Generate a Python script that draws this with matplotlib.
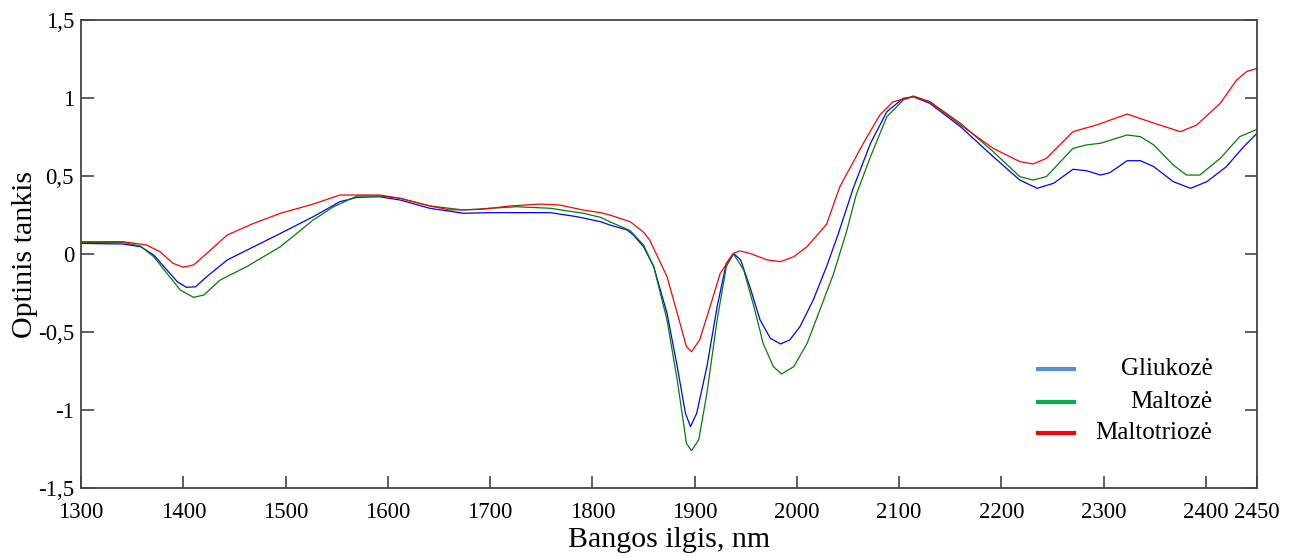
import matplotlib
matplotlib.use("Agg")
import matplotlib.pyplot as plt
from matplotlib.lines import Line2D

plt.rcParams["font.family"] = ["Liberation Serif", "DejaVu Serif"]

# Gliukozė
wl_gliukoze = [1300, 1341, 1358, 1371, 1384, 1394, 1403, 1412, 1423, 1443, 1469, 1495,
               1527, 1553, 1570, 1592, 1612, 1641, 1674, 1700, 1759, 1785, 1808, 1817,
               1834, 1840, 1850, 1860, 1873, 1883, 1891, 1896, 1902, 1912, 1922, 1931,
               1938, 1945, 1954, 1964, 1974, 1984, 1993, 2003, 2016, 2029, 2040, 2055,
               2072, 2088, 2104, 2114, 2130, 2160, 2192, 2218, 2235, 2251, 2270, 2283,
               2297, 2306, 2323, 2336, 2349, 2368, 2385, 2401, 2420, 2437, 2450]
od_gliukoze = [0.068, 0.064, 0.047, -0.006, -0.103, -0.177, -0.214, -0.21, -0.145, -0.038,
               0.047, 0.132, 0.239, 0.335, 0.363, 0.367, 0.346, 0.293, 0.261, 0.265, 0.265,
               0.239, 0.207, 0.186, 0.154, 0.122, 0.047, -0.081, -0.38, -0.722, -1.021,
               -1.107, -1.021, -0.722, -0.338, -0.06, 0.004, -0.038, -0.21, -0.423, -0.54,
               -0.577, -0.551, -0.466, -0.295, -0.081, 0.12, 0.42, 0.71, 0.912, 0.998, 1.008,
               0.966, 0.816, 0.624, 0.474, 0.421, 0.453, 0.543, 0.534, 0.506, 0.521, 0.598,
               0.598, 0.56, 0.464, 0.421, 0.464, 0.56, 0.688, 0.774]

# Maltozė
wl_maltoze = [1300, 1341, 1358, 1371, 1384, 1397, 1410, 1420, 1436, 1462, 1495, 1527,
              1547, 1570, 1592, 1612, 1641, 1674, 1726, 1759, 1791, 1808, 1817, 1837,
              1850, 1860, 1873, 1883, 1892, 1897, 1904, 1912, 1922, 1931, 1938, 1948,
              1958, 1967, 1977, 1985, 1997, 2010, 2023, 2036, 2049, 2058, 2072, 2088,
              2104, 2114, 2130, 2160, 2192, 2218, 2231, 2244, 2270, 2283, 2297, 2323,
              2336, 2349, 2368, 2381, 2394, 2414, 2433, 2450]
od_maltoze = [0.074, 0.074, 0.051, -0.017, -0.124, -0.231, -0.278, -0.263, -0.167, -0.081,
              0.047, 0.218, 0.303, 0.372, 0.372, 0.357, 0.308, 0.282, 0.303, 0.293, 0.261,
              0.235, 0.207, 0.15, 0.058, -0.081, -0.423, -0.808, -1.214, -1.261, -1.192,
              -0.893, -0.423, -0.081, 0.0, -0.103, -0.338, -0.573, -0.722, -0.769, -0.722,
              -0.573, -0.35, -0.124, 0.154, 0.38, 0.624, 0.88, 0.987, 1.013, 0.976, 0.838,
              0.656, 0.496, 0.474, 0.496, 0.677, 0.699, 0.71, 0.763, 0.752, 0.699, 0.571,
              0.506, 0.506, 0.613, 0.752, 0.799]

# Maltotriozė
wl_maltotrioze = [1300, 1341, 1364, 1377, 1390, 1400, 1410, 1423, 1443, 1469, 1495, 1527,
                  1553, 1592, 1612, 1641, 1661, 1690, 1720, 1749, 1768, 1791, 1808, 1817,
                  1837, 1850, 1856, 1873, 1883, 1892, 1897, 1905, 1915, 1925, 1938, 1944,
                  1954, 1971, 1984, 1997, 2010, 2029, 2042, 2065, 2081, 2094, 2114, 2130,
                  2160, 2192, 2218, 2231, 2244, 2270, 2293, 2323, 2345, 2375, 2391, 2414,
                  2430, 2440, 2450]
od_maltotrioze = [0.079, 0.079, 0.058, 0.015, -0.06, -0.085, -0.07, 0.004, 0.122, 0.197,
                  0.261, 0.32, 0.378, 0.378, 0.357, 0.308, 0.282, 0.286, 0.308, 0.32, 0.314,
                  0.282, 0.265, 0.25, 0.207, 0.14, 0.09, -0.145, -0.38, -0.594, -0.626, -0.55,
                  -0.34, -0.124, 0.004, 0.02, 0.004, -0.038, -0.049, -0.017, 0.047, 0.19,
                  0.431, 0.71, 0.89, 0.976, 1.008, 0.976, 0.827, 0.677, 0.592, 0.577, 0.613,
                  0.784, 0.827, 0.897, 0.848, 0.784, 0.827, 0.966, 1.115, 1.17, 1.19]

x_ticks = [1300, 1400, 1500, 1600, 1700, 1800, 1900, 2000, 2100, 2200, 2300, 2400, 2450]
y_ticks = [-1.5, -1, -0.5, 0, 0.5, 1, 1.5]
y_tick_labels = ["-1,5", "-1", "-0,5", "0", "0,5", "1", "1,5"]
names = ["Gliukozė", "Maltozė", "Maltotriozė"]

fig = plt.figure(figsize=(12.97, 5.57), dpi=100)
ax = fig.add_axes([0.0625, 0.1239, 0.9067, 0.8402])

ax.plot(wl_gliukoze, od_gliukoze, color="#0000ff", lw=0.9)
ax.plot(wl_maltoze, od_maltoze, color="#008000", lw=0.9)
ax.plot(wl_maltotrioze, od_maltotrioze, color="#ff0000", lw=0.9)

ax.set_xlim(1300, 2450)
ax.set_ylim(-1.5, 1.5)
ax.set_xticks(x_ticks)
ax.set_xticklabels([str(t) for t in x_ticks])
ax.set_yticks(y_ticks)
ax.set_yticklabels(y_tick_labels)
ax.tick_params(axis="both", direction="in", length=9, width=1.2, color="#444444",
               labelsize=16.5)
ax.tick_params(axis="x", pad=10)
ax.tick_params(axis="y", right=True, pad=5)
for s in ax.spines.values():
    s.set_color("#444444")
    s.set_linewidth(1.3)

ax.set_xlabel("Bangos ilgis, nm", fontsize=21.5, labelpad=3)
ax.set_ylabel("Optinis tankis", fontsize=21.5, labelpad=0)

# legenda be rėmelio, tekstas lygiuotas dešinėje
leg_colors = ["#558ed5", "#00b050", "#ff0000"]
leg_y = [0.254, 0.184, 0.118]
for name, c, yy in zip(names, leg_colors, leg_y):
    ax.add_line(Line2D([0.814, 0.844], [yy, yy], color=c, lw=3, transform=ax.transAxes))
    ax.text(0.962, yy, name, transform=ax.transAxes, ha="right", va="center", fontsize=18)

plt.savefig("out.png", dpi=100)
plt.close()
